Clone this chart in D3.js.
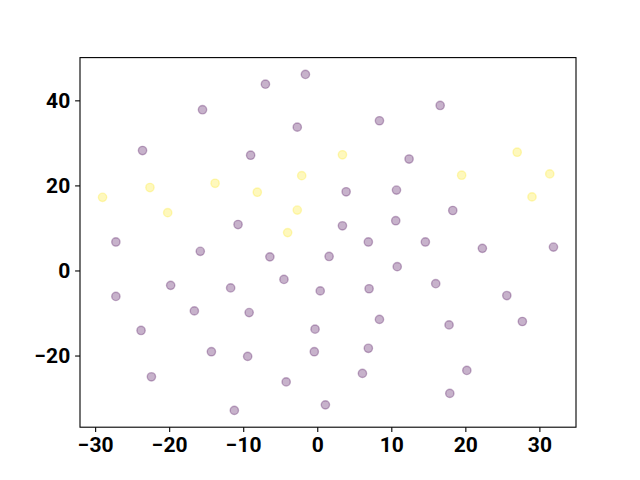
<!DOCTYPE html>
<html>
<head>
<meta charset="utf-8">
<script src="https://cdn.jsdelivr.net/npm/d3@7"></script>
<style>
  body { margin: 0; background: #fff; }
  .axis text { font-family: Roboto, sans-serif; font-weight: bold; font-size: 21px; fill: #000; }
  .axis path, .axis line { stroke: #000; stroke-width: 1.1; }
</style>
</head>
<body>
<svg id="chart" width="640" height="480"></svg>
<script>
// group 0 (purple)
var purpleX = [-1.6, -7.0, -15.5, -2.7, -23.6, -9.0, -10.7, -27.2, -15.8, -6.4,
  -19.8, -4.5, -27.2, -11.7, 0.4, -16.6, -9.2, -23.8, -0.3, -14.3,
  -9.4, -0.4, -22.4, -4.2, -11.2, 16.6, 8.4, 12.4, 3.9, 10.7,
  18.3, 3.4, 10.6, 6.9, 14.6, 22.3, 31.9, 1.6, 10.8, 16.0,
  25.6, 7.0, 8.4, 17.8, 27.7, 6.9, 6.1, 20.2, 17.9, 1.1];
var purpleY = [46.1, 43.8, 37.8, 33.7, 28.2, 27.1, 10.8, 6.7, 4.5, 3.2,
  -3.5, -2.1, -6.1, -4.1, -4.8, -9.5, -9.9, -14.1, -13.8, -19.1,
  -20.2, -19.1, -25.0, -26.2, -32.9, 38.8, 35.2, 26.2, 18.5, 18.9,
  14.1, 10.5, 11.7, 6.7, 6.7, 5.2, 5.5, 3.3, 0.9, -3.1,
  -5.9, -4.3, -11.5, -12.8, -12.0, -18.3, -24.2, -23.5, -28.9, -31.6];
// group 1 (yellow)
var yellowX = [-2.1, -13.8, -22.6, -29.0, -8.1, -20.2, -2.7, -4.0, 3.4, 27.0, 19.5, 31.4, 29.0];
var yellowY = [22.3, 20.5, 19.5, 17.2, 18.4, 13.6, 14.2, 8.9, 27.2, 27.8, 22.4, 22.7, 17.3];

var xTicks = [-30, -20, -10, 0, 10, 20, 30];
var yTicks = [-20, 0, 20, 40];

var margin = { left: 80, right: 64, top: 57.6, bottom: 52.8 };
var width = 640 - margin.left - margin.right;
var height = 480 - margin.top - margin.bottom;

var points = [];
purpleX.forEach(function(x, i) { points.push({ x: x, y: purpleY[i], c: 0 }); });
yellowX.forEach(function(x, i) { points.push({ x: x, y: yellowY[i], c: 1 }); });

var svg = d3.select('#chart');
var g = svg.append('g').attr('transform', 'translate(' + margin.left + ',' + margin.top + ')');

// matplotlib-style 5% padding
var xExt = d3.extent(points, function(d) { return d.x; });
var yExt = d3.extent(points, function(d) { return d.y; });
var xPad = (xExt[1] - xExt[0]) * 0.05;
var yPad = (yExt[1] - yExt[0]) * 0.05;

var x = d3.scaleLinear().domain([xExt[0] - xPad, xExt[1] + xPad]).range([0, width]);
var y = d3.scaleLinear().domain([yExt[0] - yPad, yExt[1] + yPad]).range([height, 0]);

var color = d3.scaleOrdinal().domain([0, 1]).range(['#440154', '#fde725']);

g.selectAll('circle')
  .data(points)
  .enter()
  .append('circle')
  .attr('cx', function(d) { return x(d.x); })
  .attr('cy', function(d) { return y(d.y); })
  .attr('r', 4.17)
  .attr('fill', function(d) { return color(d.c); })
  .attr('fill-opacity', 0.3)
  .attr('stroke', function(d) { return color(d.c); })
  .attr('stroke-opacity', 0.3)
  .attr('stroke-width', 1.39);

var minus = function(d) { return d < 0 ? '\u2212' + Math.abs(d) : d; };
var xAxis = d3.axisBottom(x).tickValues(xTicks).tickSize(4.9).tickPadding(4.9).tickFormat(minus);
var yAxis = d3.axisLeft(y).tickValues(yTicks).tickSize(4.9).tickPadding(4.9).tickFormat(minus);

g.append('g').attr('class', 'axis').attr('transform', 'translate(0,' + height + ')').call(xAxis)
  .select('.domain').remove();
g.append('g').attr('class', 'axis').call(yAxis)
  .select('.domain').remove();

g.append('rect')
  .attr('width', width)
  .attr('height', height)
  .attr('fill', 'none')
  .attr('stroke', '#000')
  .attr('stroke-width', 1.1);
</script>
</body>
</html>
